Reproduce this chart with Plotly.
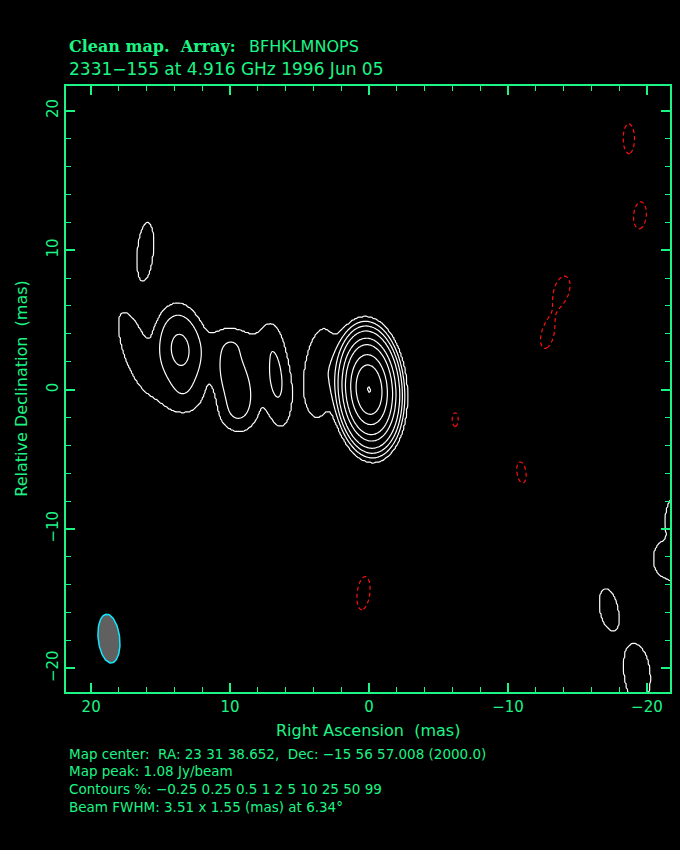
import numpy as np
import plotly.graph_objects as go

# ---------------- data ----------------
MAP_PEAK_JY = 1.08
CONTOUR_PCT = [-0.25, 0.25, 0.5, 1, 2, 5, 10, 25, 50, 99]
BEAM_MAJOR, BEAM_MINOR, BEAM_PA = 3.51, 1.55, 6.34
BEAM_CENTER = (18.72, -17.86)

# Gaussian model components (RA offset mas, Dec offset mas, peak mJy/beam,
# FWHM major mas, FWHM minor mas, position angle deg)
comp_x = [0.0, 3.5, 6.7, 9.6, 13.6, 12.0, 16.9, 16.1, 13.4, 9.2, 9.9,
          -17.25, -19.3, -21.0, -22.4, -22.5,
          -18.7, -19.5, -13.9, -12.8, -6.2, -10.97, 0.4]
comp_y = [0.0, 1.2, 1.0, 0.6, 2.9, 1.3, 2.9, 9.9, -0.8, 3.5, -1.9,
          -15.75, -20.4, -12.1, -9.2, -13.2,
          18.0, 12.5, 7.2, 3.8, -2.15, -5.94, -14.6]
comp_peak = [1080.0, 5.2, 6.0, 8.5, 12.5, 0.4, 4.2, 4.3, 2.5, 2.6, 2.5,
             4.0, 5.0, 3.6, 6.5, 3.5,
             -3.6, -3.6, -3.4, -3.3, -3.0, -3.3, -3.6]
comp_major = [3.55, 6.4, 6.5, 4.8, 4.4, 11.0, 6.5, 5.0, 3.0, 3.0, 2.4,
              3.8, 4.4, 2.6, 3.0, 2.5,
              3.3, 3.0, 3.3, 3.1, 2.5, 2.8, 3.7]
comp_minor = [1.85, 2.2, 1.7, 2.1, 2.5, 5.0, 1.8, 1.3, 2.5, 2.0, 2.0,
              1.6, 1.9, 1.4, 1.8, 2.0,
              1.25, 1.4, 1.8, 1.5, 1.1, 1.2, 1.4]
comp_pa = [4, -5, 6, 15, 5, 80, 18, -5, 90, 90, 0,
           10, 5, 0, 0, 0,
           0, -5, -15, -12, 0, 8, -7]

X_TICKS = [20, 10, 0, -10, -20]
Y_TICKS = [20, 10, 0, -10, -20]

GREEN = "#1cf585"
FONT = "DejaVu Sans"

# ---------------- build the model map ----------------
grid = np.round(np.arange(-23.0, 23.0001, 0.1), 3)
GX, GY = np.meshgrid(grid, grid)
zmap = np.zeros_like(GX)
for x0, y0, p, a, b, pa in zip(comp_x, comp_y, comp_peak, comp_major, comp_minor, comp_pa):
    t = np.deg2rad(pa)
    dx, dy = GX - x0, GY - y0
    u = dx * np.sin(t) + dy * np.cos(t)
    v = dx * np.cos(t) - dy * np.sin(t)
    zmap += p * np.exp(-4 * np.log(2) * ((u / a) ** 2 + (v / b) ** 2))
pct = zmap / (MAP_PEAK_JY * 1000.0) * 100.0

pos_lv = [c for c in CONTOUR_PCT if c > 0]
neg_lv = sorted([-c for c in CONTOUR_PCT if c < 0])


def level_index(values, levels):
    lv = np.log10([1e-9] + list(levels) + [1e6])
    idx = np.arange(len(levels) + 2, dtype=float)
    return np.interp(np.log10(np.clip(values, 1e-9, None)), lv, idx).astype(np.float32)


zpos = level_index(pct, pos_lv)
zneg = level_index(-pct, neg_lv)

fig = go.Figure()
fig.add_trace(go.Contour(
    x=grid, y=grid, z=zpos, showscale=False, hoverinfo="skip",
    contours=dict(start=1, end=len(pos_lv), size=1, coloring="none"),
    line=dict(color="white", width=1.2, smoothing=0.6),
))
fig.add_trace(go.Contour(
    x=grid, y=grid, z=zneg, showscale=False, hoverinfo="skip",
    contours=dict(start=1, end=len(neg_lv), size=1, coloring="none"),
    line=dict(color="#ff1010", width=1.2, dash="4px,3px", smoothing=0.6),
))

# beam ellipse
tt = np.linspace(0, 2 * np.pi, 120)
pa = np.deg2rad(BEAM_PA)
bu = BEAM_MAJOR / 2 * np.cos(tt)
bv = BEAM_MINOR / 2 * np.sin(tt)
bx = BEAM_CENTER[0] + bu * np.sin(pa) + bv * np.cos(pa)
by = BEAM_CENTER[1] + bu * np.cos(pa) - bv * np.sin(pa)
fig.add_trace(go.Scatter(x=bx, y=by, mode="lines", fill="toself",
                         fillcolor="#606060", line=dict(color="#10e8ff", width=1.5),
                         hoverinfo="skip", showlegend=False))

axis_common = dict(
    showgrid=False, zeroline=False, showline=True, linecolor=GREEN, linewidth=1.5,
    ticks="inside", ticklen=9, tickwidth=1.5, tickcolor=GREEN, mirror="allticks",
    tickfont=dict(family=FONT, size=15, color=GREEN),
    minor=dict(dtick=2, ticks="inside", ticklen=5, tickwidth=1.2, tickcolor=GREEN),
)
fig.update_xaxes(range=[21.81, -21.66], tickvals=X_TICKS, **axis_common)
fig.update_yaxes(range=[-21.69, 21.78], tickvals=Y_TICKS, tickangle=-90, **axis_common)

PL, PR, PT, PB = 66, 672, 86, 692
W = PR - PL
H = PB - PT


def px_to_paper(px, py):
    return (px - PL) / W, (PB - py) / H


nb = "\u00a0"
texts = [
    (f"<b>Clean map.{nb}{nb}Array:</b>", 67, 47, "DejaVu Serif", 16, "left", 0),
    ("BFHKLMNOPS", 248, 47, FONT, 16, "left", 0),
    ("2331\u2212155 at 4.916 GHz 1996 Jun 05", 67, 69, FONT, 17, "left", 0),
    (f"Map center:{nb}{nb}RA: 23 31 38.652,{nb}{nb}Dec: \u221215 56 57.008 (2000.0)", 67, 754, FONT, 13.5, "left", 0),
    (f"Map peak: {MAP_PEAK_JY:.2f} Jy/beam", 67, 771.5, FONT, 13.5, "left", 0),
    ("Contours %: " + " ".join(("\u2212" + f"{-c:g}") if c < 0 else f"{c:g}" for c in CONTOUR_PCT),
     67, 789, FONT, 13.5, "left", 0),
    (f"Beam FWHM: {BEAM_MAJOR:.2f} x {BEAM_MINOR:.2f} (mas) at {BEAM_PA:.2f}\u00b0", 67, 806.5, FONT, 13.5, "left", 0),
    (f"Right Ascension{nb}{nb}(mas)", 369, 730, FONT, 16, "center", 0),
    (f"Relative Declination{nb}{nb}(mas)", 20.5, 389, FONT, 16, "center", -90),
]
annotations = []
for text, px, py, fam, size, anchor, ang in texts:
    xp, yp = px_to_paper(px, py)
    annotations.append(dict(text=text, x=xp, y=yp, xref="paper", yref="paper",
                            xanchor=anchor, yanchor="middle", showarrow=False, textangle=ang,
                            font=dict(family=fam, size=size, color=GREEN)))

fig.update_layout(
    width=680, height=850, paper_bgcolor="black", plot_bgcolor="black",
    margin=dict(l=PL, r=680 - PR, t=PT, b=850 - PB), showlegend=False,
    annotations=annotations,
)

fig.write_html("out.html", config={"displayModeBar": False},
               post_script="document.body.style.margin='0';document.body.style.background='black';")
